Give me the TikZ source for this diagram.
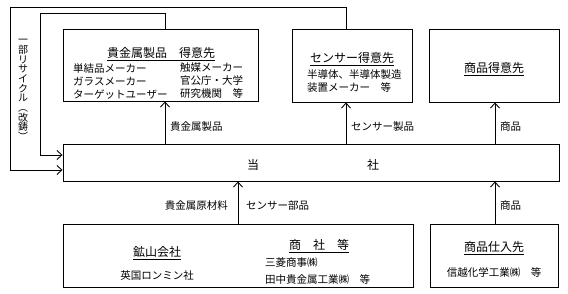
\documentclass[tikz,border=0pt]{standalone}
\usepackage{fontspec}
\setmainfont{Noto Sans CJK JP}
\usetikzlibrary{arrows.meta,positioning}
% Underlined title text
\newcommand{\ulbox}[1]{\setbox0=\hbox{#1}\vtop{\copy0\kern1.2pt\hrule height 0.7pt width \wd0}}
\tikzset{
    % Box style
    boxnode/.style={
        draw=black,
        line width=0.9pt,
        inner sep=0pt
    },
    % Underlined box title
    titletext/.style={
        font=\fontsize{12}{14}\selectfont,
        inner sep=0pt
    },
    % Box body text
    bodytext/.style={
        font=\fontsize{10.5}{13}\selectfont,
        inner sep=0pt,
        align=left
    },
    % Label beside an arrow
    flowlabel/.style={
        font=\fontsize{10.5}{12}\selectfont,
        inner sep=0pt
    },
    % Arrow style
    myarrow/.style={
        -{Straight Barb[length=5pt,width=9pt]},
        line width=0.9pt,
        draw=black
    }
}

\begin{document}
\begin{tikzpicture}[x=1pt,y=-1pt]
        \useasboundingbox (0,0) rectangle (568,294);

        % Customers
        \node[boxnode, minimum width=195pt, minimum height=72pt] (metalcust) at (160.5,65) {};
        \node[boxnode, minimum width=120pt, minimum height=73pt] (sensorcust) at (352,65.5) {};
        \node[boxnode, minimum width=130pt, minimum height=73pt] (goodscust) at (494,65.5) {};

        \node[titletext] (metaltitle) at (161,54) {\ulbox{貴金属製品\quad 得意先}};
        \node[bodytext, anchor=west] (metalleft) at (73,81) {単結品メーカー\\ガラスメーカー\\ターゲットユーザー};
        \node[bodytext, anchor=west] (metalright) at (180,81) {触媒メーカー\\官公庁・大学\\研究機関　等};

        \node[titletext] (sensortitle) at (352,59) {\ulbox{センサー得意先}};
        \node[bodytext, anchor=west, font=\fontsize{10.5}{12.5}\selectfont] (sensorbody) at (307,81) {半導体、半導体製造\\装置メーカー　等};

        \node[titletext] (goodstitle) at (494,69) {\ulbox{商品得意先}};

        % Company
        \node[boxnode, minimum width=496pt, minimum height=37pt] (tosha) at (311,162.5) {};
        \node[titletext] (to) at (253,165) {当};
        \node[titletext] (sha) at (373,165) {社};

        % Suppliers
        \node[boxnode, minimum width=350pt, minimum height=63pt] (supplier) at (238,255.5) {};
        \node[boxnode, minimum width=128pt, minimum height=63pt] (goodssupp) at (494,255.5) {};

        \node[titletext] (minetitle) at (157,253) {\ulbox{鉱山会社}};
        \node[bodytext] (minebody) at (157,276) {英国ロンミン社};
        \node[titletext] (tradetitle) at (319,246) {\ulbox{商\quad 社\quad 等}};
        \node[bodytext, anchor=west, font=\fontsize{10.5}{17}\selectfont] (tradebody) at (265,271.5) {三菱商事㈱\\田中貴金属工業㈱　等};

        \node[titletext] (supptitle) at (494,248) {\ulbox{商品仕入先}};
        \node[bodytext] (suppbody) at (494,272) {信越化学工業㈱　等};

        % Arrows
        \coordinate (m1) at ([xshift=4.5pt]metalcust.south);
        \coordinate (s1) at ([xshift=-6pt]sensorcust.south);
        \coordinate (g1) at ([xshift=1pt]goodscust.south);
        \coordinate (g2) at ([xshift=1pt]goodssupp.north);
        \draw[myarrow] (tosha.north -| m1) -- (m1);
        \draw[myarrow] (tosha.north -| s1) -- (s1);
        \draw[myarrow] (tosha.north -| g1) -- (g1);
        \draw[myarrow] (supplier.north) -- (tosha.south -| supplier.north);
        \draw[myarrow] (g2) -- (tosha.south -| g2);

        % Recycle lines
        \coordinate (m1top) at ([xshift=4.5pt]metalcust.north);
        \coordinate (s1top) at ([xshift=-6pt]sensorcust.north);
        \coordinate (inner) at (40,13);
        \coordinate (outer) at (10,7);
        \draw[myarrow] (m1top) |- (inner) |- ([yshift=7.5pt]tosha.west);
        \draw[myarrow] (s1top) |- (outer) |- ([yshift=-7.5pt]tosha.west);
        \node[font=\fontsize{10}{9.7}\selectfont, align=center, inner sep=0pt] (recycle) at (23,90) {一\\部\\リ\\サ\\イ\\ク\\ル\\︵\\改\\鋳\\︶};

        % Labels
        \node[flowlabel, anchor=west] (metallabel) at (170,127) {貴金属製品};
        \node[flowlabel, anchor=west] (sensorlabel) at (351,127) {センサー製品};
        \node[flowlabel, anchor=west] (goodslabel) at (500,127) {商品};
        \node[flowlabel, anchor=east] (rawlabel) at (228,206) {貴金属原材料};
        \node[flowlabel, anchor=west] (partlabel) at (246,206) {センサー部品};
        \node[flowlabel, anchor=west] (supplabel) at (500,206) {商品};
    \end{tikzpicture}
\end{document}
